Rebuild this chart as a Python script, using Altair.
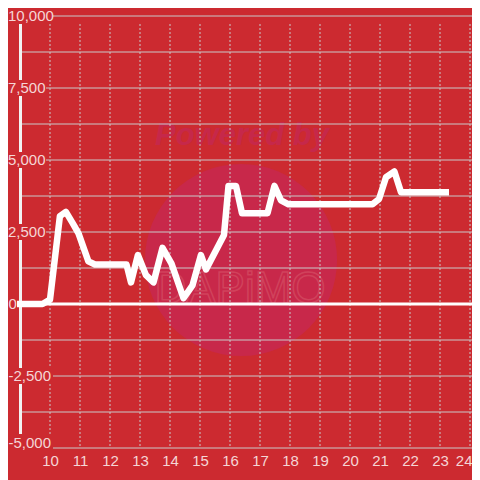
import altair as alt
import pandas as pd

# ---- data ----
times = [8.9, 9.75, 10.0, 10.33, 10.53, 10.76, 10.95, 11.28, 11.5, 12.55, 12.7, 12.93, 13.2, 13.45,
         13.75, 14.05, 14.45, 14.75, 15.03, 15.2, 15.5, 15.8, 15.95, 16.2, 16.4, 17.25, 17.48,
         17.7, 17.95, 20.75, 20.97, 21.2, 21.48, 21.7, 23.3]
values = [0, 0, 150, 3050, 3200, 2800, 2450, 1480, 1370, 1370, 750, 1700, 1000, 750,
          1950, 1400, 200, 650, 1700, 1200, 1800, 2400, 4100, 4100, 3150, 3150, 4100,
          3600, 3460, 3460, 3650, 4400, 4600, 3880, 3880]

hours = [10, 11, 12, 13, 14, 15, 16, 17, 18, 19, 20, 21, 22, 23, 24]
grid_values = [-5000, -3750, -2500, -1250, 0, 1250, 2500, 3750, 5000, 6250, 7500, 8750, 10000]
label_values = [10000, 7500, 5000, 2500, 0, -2500, -5000]

BG = "#cc2a30"
GRID = "#c9c9c9"
LBL = "#f5d6d6"
FONT = "Liberation Sans"
W, H = 452, 432

xscale = alt.Scale(domain=[9, 9 + W / 30], nice=False)
yscale = alt.Scale(domain=[-5000, 10000], nice=False)

line_df = pd.DataFrame({"t": times, "v": values})
grid_df = pd.DataFrame({"v": grid_values})
hours_df = pd.DataFrame({"t": hours})
lab_df = pd.DataFrame({"v": label_values, "label": [f"{v:,}" for v in label_values]})
zero_df = pd.DataFrame({"v": [0]})
one = pd.DataFrame({"a": [0]})

Y = alt.Y("v:Q", scale=yscale, axis=None)
XAX = alt.Axis(values=hours, format="d", title=None, domain=False, ticks=False,
               tickSize=0, grid=False, labelPadding=5, labelFontSize=15,
               labelFont=FONT, labelColor=LBL, labelOverlap=False, labelFlush=False,
               labelAlign={"condition": {"test": "datum.value == 24", "value": "right"},
                           "value": "center"},
               labelOffset={"condition": {"test": "datum.value == 24", "value": 2},
                            "value": 0})

circle = alt.Chart(one).mark_circle(size=36900, color="#c8284a", opacity=1).encode(
    x=alt.value(221), y=alt.value(244))
powered = alt.Chart(one).mark_text(text="Powered by", font=FONT, fontSize=31, fontWeight="bold",
                                   fontStyle="italic", color="#c6284a").encode(
    x=alt.value(222), y=alt.value(120))
brand = alt.Chart(one).mark_text(text="DAPiMO", font=FONT, fontSize=44, fill="transparent",
                                 stroke="#d65468", strokeWidth=1.5, strokeOpacity=0.6).encode(
    x=alt.value(220), y=alt.value(274))

hgrid = alt.Chart(grid_df).mark_rule(color=GRID, strokeWidth=1).encode(
    y=Y, x=alt.value(0), x2=alt.value(W))

vgrid = alt.Chart(hours_df).mark_rule(color=GRID, strokeWidth=1, strokeDash=[2, 2]).encode(
    x=alt.X("t:Q", scale=xscale, axis=XAX),
    y=alt.value(8), y2=alt.value(H))

zero = alt.Chart(zero_df).mark_rule(color="white", strokeWidth=3).encode(
    y=Y, x=alt.value(0), x2=alt.value(W))

axis_line = alt.Chart(one).mark_rule(color="#f2f2f2", strokeWidth=3).encode(
    x=alt.value(0.5), y=alt.value(0), y2=alt.value(H))

rect_top = alt.Chart(lab_df).transform_filter("datum.v == 10000").mark_rect(
    color=BG, yOffset=-8, y2Offset=8).encode(
    y=Y, y2="v:Q", x=alt.value(-20), x2=alt.value(33))
rect_mid = alt.Chart(lab_df).transform_filter("datum.v > 0 && datum.v < 10000").mark_rect(
    color=BG, yOffset=-8, y2Offset=8).encode(
    y=Y, y2="v:Q", x=alt.value(-20), x2=alt.value(26))
rect_neg = alt.Chart(lab_df).transform_filter("datum.v == -2500").mark_rect(
    color=BG, yOffset=-8, y2Offset=8).encode(
    y=Y, y2="v:Q", x=alt.value(-20), x2=alt.value(33))
rect_bot = alt.Chart(lab_df).transform_filter("datum.v == -5000").mark_rect(
    color=BG, yOffset=-14, y2Offset=2).encode(
    y=Y, y2="v:Q", x=alt.value(-20), x2=alt.value(33))

txt_pos = alt.Chart(lab_df).transform_filter("datum.v > 0").mark_text(
    align="left", baseline="middle", font=FONT, fontSize=15, color=LBL).encode(
    y=Y, x=alt.value(-12), text="label:N")
txt_zero = alt.Chart(lab_df).transform_filter("datum.v == 0").mark_text(
    align="left", baseline="middle", font=FONT, fontSize=15, color=LBL).encode(
    y=Y, x=alt.value(-11.5), text="label:N")
txt_neg = alt.Chart(lab_df).transform_filter("datum.v == -2500").mark_text(
    align="right", baseline="middle", font=FONT, fontSize=15, color=LBL).encode(
    y=Y, x=alt.value(31), text="label:N")
txt_bot = alt.Chart(lab_df).transform_filter("datum.v == -5000").mark_text(
    align="right", baseline="middle", font=FONT, fontSize=15, color=LBL, dy=-5).encode(
    y=Y, x=alt.value(31), text="label:N")

data_line = alt.Chart(line_df).mark_line(color="white", strokeWidth=6.5, strokeCap="butt",
                                         strokeJoin="round").encode(
    x=alt.X("t:Q", scale=xscale, axis=XAX), y=Y)

chart = alt.layer(
    circle, powered, brand, hgrid, vgrid, zero, axis_line,
    rect_top, rect_mid, rect_neg, rect_bot, txt_pos, txt_zero, txt_neg, txt_bot, data_line
).properties(
    width=W, height=H, background=BG,
    padding={"left": 12, "top": 8, "right": 0, "bottom": 32},
    autosize=alt.AutoSizeParams(type="none"),
).configure_view(stroke=None)

chart.save("out.html", embed_options={"renderer": "svg", "actions": False})
